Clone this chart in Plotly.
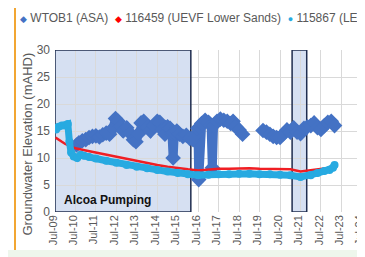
import plotly.graph_objects as go

# ---------------- data ----------------
wtob1_dates = ["2010-07-20","2010-09-01","2010-11-01","2011-01-01","2011-03-01","2011-05-01","2011-07-01",
    "2011-09-01","2011-11-01","2012-01-01","2012-03-01","2012-05-01","2012-06-15","2012-08-01","2012-09-15",
    "2012-11-01","2013-01-01","2013-03-01","2013-05-01","2013-06-15","2013-08-01","2013-09-15","2013-11-01",
    "2014-01-01","2014-03-01","2014-05-01","2014-07-01","2014-08-15","2014-10-01","2014-11-15","2015-01-01",
    "2015-02-15","2015-03-20","2015-04-10","2015-05-01","2015-06-15","2015-08-01","2015-10-01","2015-12-01",
    "2016-02-01","2016-04-01","2016-06-01","2016-06-25","2016-07-10","2016-07-25","2016-09-01","2016-11-01",
    "2017-01-01","2017-02-15","2017-03-10","2017-04-01","2017-06-01","2017-08-01","2017-10-01","2017-12-01",
    "2018-02-01","2018-03-15","2018-05-01","2018-07-01","2018-09-01","2018-09-20",
    "2019-09-01","2019-11-01","2020-01-01","2020-03-01","2020-05-01","2020-07-01","2020-09-01","2020-11-01",
    "2021-01-01","2021-03-01","2021-05-01","2021-07-01","2021-09-01","2021-11-01","2022-01-01","2022-03-01",
    "2022-05-01","2022-07-01","2022-09-01","2022-11-01","2023-01-01","2023-03-01"]
wtob1_vals = [12.4,12.8,13.2,13.4,13.8,14.0,14.1,
    13.9,14.3,14.6,14.4,15.5,17.3,16.8,15.8,
    15.0,15.6,14.6,13.4,13.0,14.5,16.5,16.8,
    15.8,15.0,16.0,16.8,16.6,15.2,14.4,15.8,
    15.5,14.6,10.0,14.6,15.0,14.4,14.0,14.2,
    13.6,13.4,14.5,15.5,6.0,15.8,16.4,17.0,
    16.6,16.0,8.2,16.0,16.8,17.2,17.0,16.8,
    16.4,16.8,15.8,15.2,14.4,None,
    15.1,14.8,14.4,14.0,13.8,13.8,14.5,15.2,
    14.8,15.6,14.8,14.5,15.5,15.8,16.0,16.5,
    15.6,15.3,16.0,16.6,16.8,16.0]

uevf_dates = ["2009-07-10","2009-09-01","2009-11-01","2010-01-01","2010-04-01","2010-07-01","2011-01-01",
    "2011-07-01","2012-01-01","2012-07-01","2013-01-01","2013-07-01","2014-01-01","2014-07-01","2015-01-01",
    "2015-07-01","2016-01-01","2016-07-01","2017-01-01","2017-07-01","2018-01-01","2018-07-01","2019-01-01",
    "2019-07-01","2020-01-01","2020-07-01","2021-01-01","2021-07-01","2022-01-01","2022-07-01","2023-03-01"]
uevf_vals = [13.8,13.5,13.0,12.6,12.2,11.8,11.4,
    11.0,10.6,10.2,9.8,9.4,9.0,8.7,8.4,
    8.1,7.9,7.7,7.9,8.0,8.0,8.1,8.1,
    8.0,8.0,8.0,7.9,7.5,7.7,8.0,8.3]

levf_dates = ["2009-07-20","2009-09-01","2009-11-01","2010-01-01","2010-02-15","2010-03-15","2010-04-15",
    "2010-06-01","2010-08-01","2010-10-01","2010-12-01","2011-03-01","2011-07-01","2012-01-01","2012-07-01",
    "2013-01-01","2013-07-01","2014-01-01","2014-07-01","2015-01-01","2015-07-01","2016-01-01","2016-07-01",
    "2017-01-01","2017-07-01","2018-01-01","2018-07-01","2019-01-01","2019-07-01","2020-01-01","2020-07-01",
    "2021-01-01","2021-07-01","2022-01-01","2022-05-01","2022-09-01","2022-12-01","2023-02-01","2023-03-01"]
levf_vals = [15.3,15.8,16.0,16.0,16.3,13.0,11.0,
    10.3,10.0,10.6,10.4,10.2,9.9,9.5,9.1,
    8.7,8.4,8.1,7.8,7.5,7.2,7.0,6.8,
    6.9,7.0,7.0,7.1,7.1,7.0,7.0,6.9,
    6.8,6.5,6.8,7.2,7.6,7.8,8.2,8.7]

series_names = ["WTOB1 (ASA)", "116459 (UEVF Lower Sands)", "115867 (LEVF)"]
pumping_periods = [("2009-07-01", "2016-02-20", "Alcoa Pumping"), ("2021-02-01", "2021-10-20", "")]
tick_dates = ["%d-07-01" % y for y in range(2009, 2025)]
tick_labels = ["Jul-%02d" % (y % 100) for y in range(2009, 2025)]

C_DARK = "#4472C4"
C_RED = "#F01E23"
C_LIGHT = "#27AAE1"
GREY = "#595959"
FONT = "Liberation Sans, Arial, sans-serif"

fig = go.Figure()
fig.add_trace(go.Scatter(x=wtob1_dates, y=wtob1_vals, mode="lines+markers", name=series_names[0],
    line=dict(color=C_DARK, width=9), marker=dict(symbol="diamond", size=12, color=C_DARK),
    connectgaps=False, showlegend=False))
fig.add_trace(go.Scatter(x=uevf_dates, y=uevf_vals, mode="lines", name=series_names[1],
    line=dict(color=C_RED, width=2.5), showlegend=False))
fig.add_trace(go.Scatter(x=levf_dates, y=levf_vals, mode="lines+markers", name=series_names[2],
    line=dict(color=C_LIGHT, width=7), marker=dict(symbol="circle", size=8, color=C_LIGHT),
    showlegend=False))

shapes = []
for x0, x1, _ in pumping_periods:
    shapes.append(dict(type="rect", xref="x", yref="y", x0=x0, x1=x1, y0=0, y1=30,
                       fillcolor="rgba(180,198,231,0.55)", line=dict(width=0), layer="below"))
    shapes.append(dict(type="rect", xref="x", yref="y", x0=x0, x1=x1, y0=0, y1=30,
                       fillcolor="rgba(0,0,0,0)", line=dict(color="#1F2D4F", width=1.5), layer="between"))
# page decorations: orange frame (left/top) and pale green band at bottom
shapes.append(dict(type="rect", xref="paper", yref="paper", x0=-0.3, x1=1.2, y0=-0.2346, y1=-0.35,
                   fillcolor="#EEF6EC", line=dict(width=0), layer="below"))
shapes.append(dict(type="line", xref="paper", yref="paper", x0=-0.1303, x1=-0.1303, y0=-0.2346, y1=1.2654,
                   line=dict(color="#F2A633", width=2)))
shapes.append(dict(type="line", xref="paper", yref="paper", x0=-0.1303, x1=1.2, y0=1.2654, y1=1.2654,
                   line=dict(color="#F2A633", width=2)))

legend_text = ('<span style="color:%s;font-size:9px">◆</span> %s  '
               '<span style="color:%s;font-size:9px">◆</span> %s  '
               '<span style="color:%s;font-size:9px">●</span> %s') % (
    C_DARK, series_names[0], "#FF0000", series_names[1], C_LIGHT, series_names[2])

annotations = [
    dict(text=legend_text, xref="paper", yref="paper", x=-0.12, y=1.2, xanchor="left", yanchor="middle",
         showarrow=False, font=dict(family=FONT, size=12, color=GREY)),
    dict(text="Groundwater Elevation (mAHD)", xref="paper", yref="paper", x=-0.0912, y=0.4167,
         xanchor="center", yanchor="middle", textangle=-90, showarrow=False,
         font=dict(family=FONT, size=13, color=GREY)),
    dict(text="<b>" + pumping_periods[0][2] + "</b>", xref="x", yref="y", x="2009-11-10", y=2.2,
         xanchor="left", yanchor="middle", showarrow=False, font=dict(family=FONT, size=12, color="#111111")),
]

# the page body adds an 8px offset, so the figure margins compensate for it
fig.update_layout(
    width=365, height=257,
    margin=dict(l=47, r=11, t=42, b=53),
    paper_bgcolor="white", plot_bgcolor="white",
    font=dict(family=FONT, color=GREY),
    shapes=shapes, annotations=annotations,
    showlegend=False,
)
fig.update_xaxes(type="date", range=["2009-07-01", "2024-07-03"], tickmode="array",
                 tickvals=tick_dates, ticktext=tick_labels,
                 tickangle=-90, tickfont=dict(size=11, color=GREY), ticklabelshift=-2,
                 showgrid=True, gridcolor="#D9D9D9", gridwidth=1, zeroline=False,
                 showline=False, ticks="", automargin=False)
fig.update_yaxes(range=[0, 30], dtick=5, tickfont=dict(size=12, color=GREY),
                 showgrid=True, gridcolor="#D9D9D9", gridwidth=1, zeroline=False,
                 showline=False, ticks="", ticklabelstandoff=4, automargin=False)

fig.write_html("out.html")
